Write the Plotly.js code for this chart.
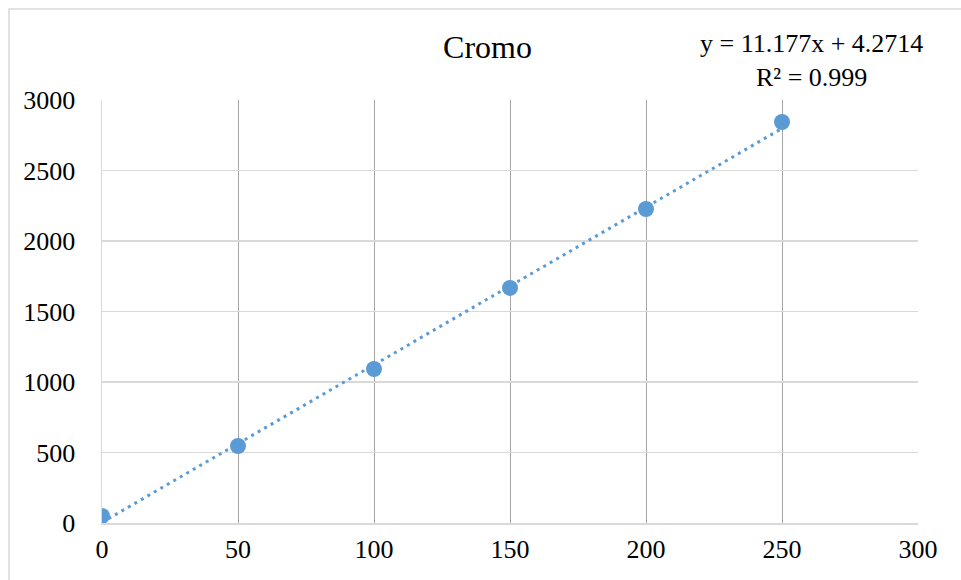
<!DOCTYPE html>
<html>
<head>
<meta charset="utf-8">
<script src="https://cdn.plot.ly/plotly-3.0.1.min.js"></script>
<style>html,body{margin:0;padding:0;background:#fff;}#chart{width:961px;height:580px;}</style>
</head>
<body>
<div id="chart"></div>
<script>
const concentrations = [0, 50, 100, 150, 200, 250];
const intensities = [50, 546, 1092, 1667, 2227, 2844];
const fitSlope = 11.177;
const fitIntercept = 4.2714;
const fitRange = [0, 250];
const xTicks = [0, 50, 100, 150, 200, 250, 300];
const yTicks = [0, 500, 1000, 1500, 2000, 2500, 3000];
const chartTitle = 'Cromo';
const equationText = 'y = 11.177x + 4.2714<br>R² = 0.999';

const fitY = fitRange.map(x => fitSlope * x + fitIntercept);
const blue = '#5B9BD5';
const font = 'Liberation Serif';

const traces = [
  {x: fitRange, y: fitY, mode: 'lines', type: 'scatter',
   line: {color: blue, width: 3, dash: '3px,4.5px'}, hoverinfo: 'skip'},
  {x: concentrations, y: intensities, mode: 'markers', type: 'scatter',
   marker: {color: blue, size: 16}}
];

const layout = {
  width: 961, height: 580,
  margin: {l: 102, r: 43, t: 100, b: 57},
  paper_bgcolor: '#fff', plot_bgcolor: '#fff',
  showlegend: false,
  font: {family: font, color: '#000', size: 26},
  title: {text: chartTitle, font: {family: font, size: 32, color: '#000'},
          xref: 'paper', x: 0.4724, xanchor: 'center', yref: 'container', y: 0.92, yanchor: 'middle'},
  xaxis: {range: [0, 300], tickvals: xTicks, ticktext: xTicks.map(String),
          showgrid: true, gridcolor: '#a6a6a6', gridwidth: 1, zeroline: false,
          showline: true, linecolor: '#d9d9d9', linewidth: 1.5,
          ticks: 'outside', ticklen: 0, tickcolor: 'rgba(0,0,0,0)', ticklabelstandoff: 2,
          tickfont: {size: 26, family: font, color: '#000'}},
  yaxis: {range: [0, 3000], tickvals: yTicks, ticktext: yTicks.map(String),
          showgrid: true, gridcolor: '#d9d9d9', gridwidth: 1.5, zeroline: false,
          showline: true, linecolor: '#d9d9d9', linewidth: 1.5,
          ticks: '', ticklabelstandoff: 20, tickfont: {size: 26, family: font, color: '#000'}},
  annotations: [
    {text: equationText, xref: 'paper', yref: 'paper', x: (811 - 102) / 816, y: (523 - 60) / 423,
     xanchor: 'center', yanchor: 'middle', align: 'center', showarrow: false,
     font: {family: font, size: 26, color: '#000'}}
  ],
  shapes: [
    {type: 'rect', xref: 'paper', yref: 'paper', x0: (9 - 102) / 816, x1: (975 - 102) / 816,
     y0: (523 - 600) / 423, y1: (523 - 9) / 423, line: {color: '#d9d9d9', width: 1.5}, layer: 'below'}
  ]
};

Plotly.newPlot('chart', traces, layout, {displayModeBar: false, staticPlot: true});
</script>
</body>
</html>
